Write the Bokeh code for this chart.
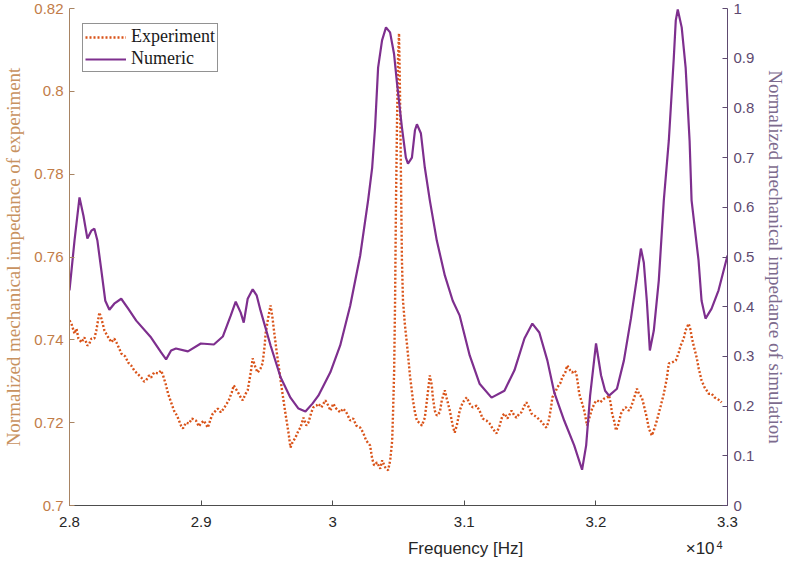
from bokeh.plotting import figure
from bokeh.models import (Range1d, LinearAxis, FixedTicker, CustomJSTickFormatter,
                          Legend, LegendItem)
from bokeh.embed import file_html
from bokeh.resources import INLINE

# Measured normalized impedance (left axis) vs frequency in Hz
exp_freq = [
    28000, 28015, 28030, 28038, 28053, 28068, 28091, 28113, 28136, 28151,
    28166, 28189, 28204, 28227, 28242, 28265, 28287, 28318, 28340, 28356,
    28378, 28393, 28424, 28446, 28469, 28492, 28514, 28545, 28567, 28582,
    28605, 28620, 28643, 28673, 28696, 28711, 28734, 28749, 28772, 28794,
    28817, 28832, 28847, 28862, 28885, 28908, 28930, 28961, 28983, 28998,
    29021, 29051, 29074, 29089, 29112, 29127, 29150, 29172, 29195, 29210,
    29233, 29248, 29271, 29286, 29301, 29316, 29339, 29354, 29377, 29392,
    29415, 29430, 29452, 29467, 29483, 29490, 29513, 29528, 29543, 29551,
    29573, 29589, 29604, 29626, 29641, 29664, 29679, 29694, 29717, 29740,
    29755, 29778, 29800, 29815, 29838, 29853, 29876, 29891, 29914, 29944,
    29967, 29982, 30005, 30027, 30057, 30080, 30103, 30133, 30156, 30179,
    30209, 30231, 30254, 30284, 30300, 30315, 30337, 30361, 30376, 30399,
    30421, 30437, 30452, 30459, 30467, 30474, 30481, 30489, 30496, 30504,
    30511, 30519, 30526, 30534, 30549, 30564, 30587, 30610, 30625, 30640,
    30663, 30678, 30700, 30716, 30738, 30753, 30761, 30776, 30791, 30814,
    30829, 30852, 30867, 30890, 30912, 30927, 30943, 30965, 30988, 31018,
    31041, 31063, 31094, 31116, 31139, 31169, 31192, 31215, 31245, 31268,
    31290, 31306, 31328, 31359, 31381, 31396, 31419, 31434, 31457, 31472,
    31495, 31510, 31533, 31555, 31578, 31593, 31608, 31623, 31638, 31646,
    31661, 31669, 31691, 31706, 31729, 31744, 31767, 31782, 31805, 31820,
    31835, 31850, 31865, 31873, 31896, 31911, 31926, 31933, 31949, 31971,
    31994, 32009, 32032, 32062, 32085, 32100, 32115, 32123, 32138, 32153,
    32168, 32191, 32213, 32228, 32251, 32266, 32289, 32312, 32327, 32349,
    32365, 32387, 32402, 32425, 32440, 32463, 32493, 32516, 32539, 32554,
    32576, 32607, 32629, 32644, 32667, 32682, 32705, 32720, 32728, 32743,
    32766, 32781, 32803, 32826, 32841, 32856, 32879, 32902, 32917, 32940,
    32955,
]
exp_val = [
    0.7447, 0.7439, 0.7423, 0.7415, 0.7427, 0.7403, 0.7394, 0.7406, 0.7386, 0.7391,
    0.7403, 0.7403, 0.7423, 0.7466, 0.7452, 0.7423, 0.7410, 0.7394, 0.7403, 0.7394,
    0.7379, 0.7367, 0.7360, 0.7345, 0.7338, 0.7326, 0.7319, 0.7309, 0.7299, 0.7302,
    0.7314, 0.7309, 0.7321, 0.7319, 0.7326, 0.7314, 0.7290, 0.7270, 0.7249, 0.7229,
    0.7217, 0.7205, 0.7193, 0.7186, 0.7200, 0.7198, 0.7210, 0.7205, 0.7191, 0.7198,
    0.7205, 0.7188, 0.7210, 0.7222, 0.7229, 0.7234, 0.7225, 0.7234, 0.7246, 0.7254,
    0.7273, 0.7290, 0.7278, 0.7270, 0.7261, 0.7254, 0.7270, 0.7278, 0.7321, 0.7355,
    0.7331, 0.7321, 0.7331, 0.7343, 0.7386, 0.7415, 0.7459, 0.7483, 0.7452, 0.7430,
    0.7374, 0.7338, 0.7302, 0.7254, 0.7222, 0.7176, 0.7140, 0.7152, 0.7164, 0.7181,
    0.7188, 0.7212, 0.7193, 0.7200, 0.7225, 0.7237, 0.7241, 0.7246, 0.7237, 0.7254,
    0.7241, 0.7229, 0.7246, 0.7234, 0.7225, 0.7234, 0.7225, 0.7205, 0.7210, 0.7193,
    0.7188, 0.7176, 0.7157, 0.7145, 0.7113, 0.7097, 0.7104, 0.7089, 0.7109, 0.7092,
    0.7085, 0.7109, 0.7157, 0.7229, 0.7326, 0.7495, 0.7736, 0.7930, 0.8074, 0.8140,
    0.8002, 0.7785, 0.7592, 0.7495, 0.7435, 0.7391, 0.7314, 0.7254, 0.7225, 0.7205,
    0.7198, 0.7193, 0.7212, 0.7254, 0.7314, 0.7290, 0.7261, 0.7229, 0.7217, 0.7225,
    0.7254, 0.7278, 0.7258, 0.7229, 0.7193, 0.7176, 0.7193, 0.7229, 0.7249, 0.7261,
    0.7246, 0.7237, 0.7241, 0.7229, 0.7210, 0.7205, 0.7198, 0.7186, 0.7174, 0.7193,
    0.7217, 0.7222, 0.7210, 0.7229, 0.7217, 0.7212, 0.7222, 0.7225, 0.7241, 0.7249,
    0.7234, 0.7222, 0.7217, 0.7212, 0.7205, 0.7200, 0.7193, 0.7188, 0.7200, 0.7212,
    0.7241, 0.7261, 0.7273, 0.7285, 0.7295, 0.7309, 0.7321, 0.7338, 0.7326, 0.7321,
    0.7326, 0.7321, 0.7290, 0.7270, 0.7246, 0.7229, 0.7205, 0.7193, 0.7210, 0.7234,
    0.7249, 0.7254, 0.7249, 0.7258, 0.7261, 0.7266, 0.7241, 0.7222, 0.7205, 0.7181,
    0.7193, 0.7222, 0.7234, 0.7237, 0.7229, 0.7237, 0.7258, 0.7282, 0.7270, 0.7261,
    0.7241, 0.7212, 0.7186, 0.7169, 0.7181, 0.7205, 0.7241, 0.7270, 0.7307, 0.7343,
    0.7345, 0.7350, 0.7369, 0.7386, 0.7403, 0.7423, 0.7439, 0.7423, 0.7406, 0.7386,
    0.7357, 0.7331, 0.7302, 0.7285, 0.7278, 0.7270, 0.7270, 0.7261, 0.7258, 0.7254,
    0.7249,
]

# Simulated normalized impedance (right axis)
num_freq = [
    28000, 28038, 28076, 28106, 28136, 28166, 28189, 28212, 28242, 28272,
    28303, 28340, 28393, 28446, 28507, 28620, 28696, 28734, 28772, 28809,
    28900, 28998, 29097, 29165, 29225, 29263, 29301, 29324, 29354, 29392,
    29422, 29452, 29528, 29604, 29679, 29740, 29793, 29846, 29891, 29982,
    30057, 30133, 30209, 30269, 30300, 30322, 30345, 30375, 30405, 30436,
    30466, 30489, 30526, 30556, 30572, 30602, 30625, 30640, 30670, 30700,
    30738, 30791, 30852, 30912, 30965, 31041, 31116, 31207, 31305, 31381,
    31457, 31517, 31570, 31631, 31684, 31759, 31835, 31895, 31926, 31956,
    32001, 32039, 32070, 32100, 32160, 32213, 32266, 32311, 32342, 32364,
    32387, 32410, 32440, 32478, 32516, 32554, 32592, 32607, 32622, 32652,
    32682, 32712, 32727, 32780, 32803, 32833, 32879, 32932, 33000,
]
num_val = [
    0.433, 0.533, 0.620, 0.583, 0.537, 0.553, 0.557, 0.533, 0.473, 0.412,
    0.394, 0.406, 0.416, 0.396, 0.372, 0.338, 0.308, 0.294, 0.312, 0.316,
    0.310, 0.326, 0.324, 0.340, 0.382, 0.410, 0.388, 0.368, 0.416, 0.435,
    0.423, 0.392, 0.322, 0.258, 0.217, 0.195, 0.189, 0.205, 0.221, 0.268,
    0.322, 0.402, 0.503, 0.614, 0.680, 0.761, 0.881, 0.936, 0.962, 0.952,
    0.909, 0.849, 0.761, 0.700, 0.688, 0.700, 0.755, 0.767, 0.749, 0.680,
    0.614, 0.533, 0.463, 0.412, 0.382, 0.302, 0.245, 0.217, 0.231, 0.272,
    0.336, 0.366, 0.348, 0.292, 0.227, 0.171, 0.121, 0.072, 0.121, 0.221,
    0.326, 0.262, 0.231, 0.221, 0.235, 0.292, 0.376, 0.457, 0.517, 0.489,
    0.412, 0.312, 0.352, 0.453, 0.614, 0.734, 0.901, 0.976, 0.998, 0.962,
    0.881, 0.734, 0.614, 0.493, 0.412, 0.376, 0.396, 0.433, 0.503,
]

x_ticks = [28000, 29000, 30000, 31000, 32000, 33000]
left_ticks = [0.70, 0.72, 0.74, 0.76, 0.78, 0.80, 0.82]
right_ticks = [0.0, 0.1, 0.2, 0.3, 0.4, 0.5, 0.6, 0.7, 0.8, 0.9, 1.0]
# caption row under the x axis (positions in Hz): title, then the x10 multiplier
caption_pos = [31010, 32792]
# the exponent of the multiplier, raised and smaller
exponent_pos = [32939]

EXP_COLOR = "#D95319"
NUM_COLOR = "#7E2F8E"
LEFT_AX = "#C27C48"
RIGHT_AX = "#5E4A70"
SANS = "Liberation Sans"
SERIF = "Liberation Serif"

p = figure(width=789, height=563, output_backend="svg", toolbar_location=None,
           x_range=Range1d(28000, 33000), y_range=Range1d(0.70, 0.82),
           min_border_left=68, min_border_right=58, min_border_top=8,
           min_border_bottom=58)
p.extra_y_ranges = {"sim": Range1d(0.0, 1.0)}
p.outline_line_color = None
p.xgrid.visible = False
p.ygrid.visible = False
p.background_fill_color = "white"
p.border_fill_color = "white"

r_exp = p.line(exp_freq, exp_val, line_color=EXP_COLOR, line_width=2.4,
               line_dash="2 2")
r_num = p.line(num_freq, num_val, line_color=NUM_COLOR, line_width=2.2,
               y_range_name="sim")

# bottom axis
xa = p.xaxis[0]
xa.ticker = FixedTicker(ticks=x_ticks)
xa.formatter = CustomJSTickFormatter(code="return String(Math.round(tick/1000)/10);")
xa.major_tick_in = 5
xa.major_tick_out = 0
xa.minor_tick_line_color = None
xa.axis_line_color = "#4D4D4D"
xa.major_tick_line_color = "#4D4D4D"
xa.major_label_text_color = "#262626"
xa.major_label_text_font = SANS
xa.major_label_text_font_size = "15px"
xa.major_label_standoff = 11


def caption_axis(ticks, code, size, standoff):
    ax = LinearAxis(ticker=FixedTicker(ticks=ticks))
    ax.formatter = CustomJSTickFormatter(code=code)
    ax.axis_line_color = None
    ax.major_tick_line_color = None
    ax.minor_tick_line_color = None
    ax.major_label_text_color = "#262626"
    ax.major_label_text_font = SANS
    ax.major_label_text_font_size = size
    ax.major_label_standoff = standoff
    return ax


p.add_layout(caption_axis(caption_pos,
                          "return tick < 32000 ? 'Frequency [Hz]' : '\u00d710';",
                          "17px", 3), "below")
p.add_layout(caption_axis(exponent_pos, "return '4';", "11px", -26), "below")

# left axis (experiment)
ya = p.yaxis[0]
ya.ticker = FixedTicker(ticks=left_ticks)
ya.formatter = CustomJSTickFormatter(code="return String(Math.round(tick*100)/100);")
ya.major_tick_in = 5
ya.major_tick_out = 0
ya.minor_tick_line_color = None
ya.axis_line_color = "#A88463"
ya.major_tick_line_color = "#A88463"
ya.major_label_text_color = LEFT_AX
ya.major_label_text_font = SANS
ya.major_label_text_font_size = "15px"
ya.major_label_standoff = 6
ya.axis_label = "Normalized mechanical impedance of experiment"
ya.axis_label_text_font = SERIF
ya.axis_label_text_font_style = "normal"
ya.axis_label_text_font_size = "19px"
ya.axis_label_text_color = "#C8925F"
ya.axis_label_standoff = 7

# right axis (simulation)
ra = LinearAxis(y_range_name="sim")
ra.ticker = FixedTicker(ticks=right_ticks)
ra.formatter = CustomJSTickFormatter(code="return String(Math.round(tick*10)/10);")
ra.major_tick_in = 5
ra.major_tick_out = 0
ra.minor_tick_line_color = None
ra.axis_line_color = RIGHT_AX
ra.major_tick_line_color = RIGHT_AX
ra.major_label_text_color = RIGHT_AX
ra.major_label_text_font = SANS
ra.major_label_text_font_size = "15px"
ra.major_label_standoff = 6
ra.axis_label = "Normalized mechanical impedance of simulation"
ra.axis_label_text_font = SERIF
ra.axis_label_text_font_style = "normal"
ra.axis_label_text_font_size = "19px"
ra.axis_label_text_color = "#7D6B8E"
ra.axis_label_standoff = 8
p.add_layout(ra, "right")

legend = Legend(items=[LegendItem(label="Experiment", renderers=[r_exp]),
                       LegendItem(label="Numeric", renderers=[r_num])],
                location=(13, 433), margin=0, padding=2, spacing=1,
                glyph_width=41, glyph_height=20, label_height=20,
                label_standoff=5, label_text_font=SERIF,
                label_text_font_size="18px", label_text_color="#1A1A1A",
                border_line_color="#262626", border_line_width=1,
                background_fill_color="white", background_fill_alpha=1.0)
p.add_layout(legend)

open("out.html", "w").write(file_html(p, INLINE))
